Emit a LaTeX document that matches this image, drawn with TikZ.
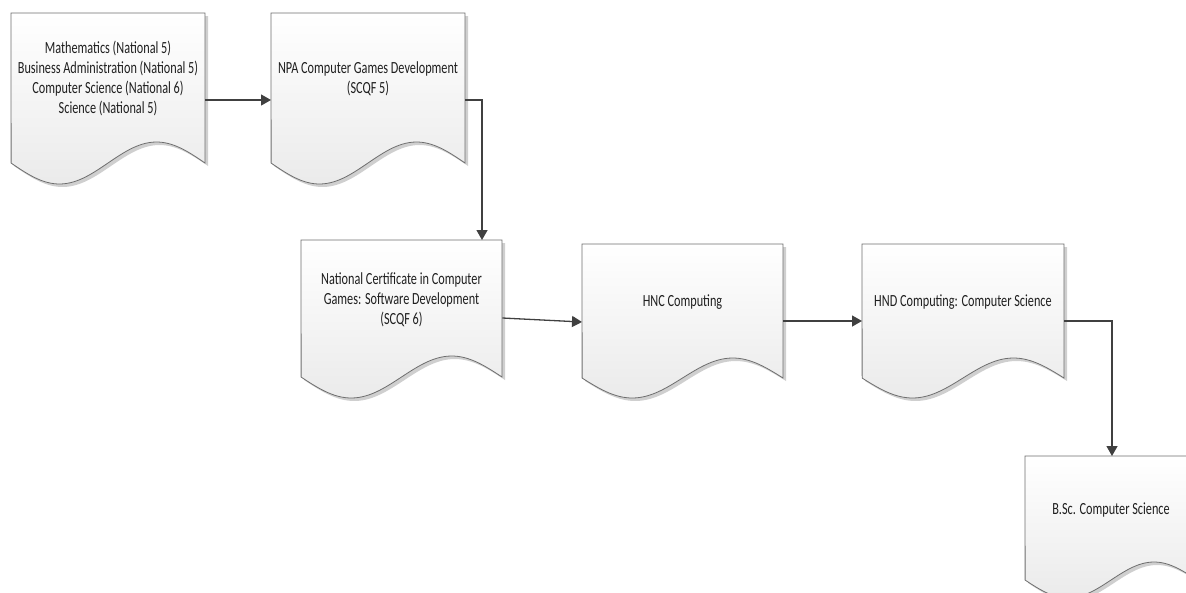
\documentclass[tikz,border=0pt]{standalone}
\usepackage{fontspec}
\newfontfamily\calfont[FakeStretch=0.72]{Carlito}
\usetikzlibrary{arrows.meta,calc}
\definecolor{edgec}{HTML}{6E6E6E}
\definecolor{arrowc}{HTML}{404040}
\definecolor{shadowc}{HTML}{CFCFCF}
\tikzset{
  docline/.style={draw=edgec, line width=0.8pt, top color=white, bottom color=black!8},
  docshadow/.style={fill=shadowc, draw=none},
  doclabel/.style={font=\calfont\fontsize{17}{20}\selectfont, align=center, text=black!88, inner sep=0pt},
  arr/.style={draw=arrowc, line width=1.3pt, -{Triangle[length=10pt,width=11pt]}},
  docbody/.style={draw=none, inner sep=0pt, anchor=north west},
}
% x y w h a
\newcommand\docpath[5]{(#1,#2) -- ({#1+#3},#2) -- ({#1+#3},{#2+#4}) -- plot[domain=1:0,samples=60,variable=\t] ({#1+\t*#3},{#2+#4+#5*sin(360*\t)}) -- cycle}
% name x y w h a
\newcommand\docshape[6]{%
  \path[docshadow, shift={(3,3)}] \docpath{#2}{#3}{#4}{#5}{#6};
  \path[docline] \docpath{#2}{#3}{#4}{#5}{#6};
  \node[docbody, minimum width=#4pt, minimum height=#5pt] (#1) at (#2,#3) {};
}
\begin{document}
\begin{tikzpicture}[x=1pt,y=-1pt]
\useasboundingbox (0,0) rectangle (1186,592);
\clip (0,0) rectangle (1186,592);

\docshape{n1}{11}{13}{194}{150}{21}
\docshape{n2}{271}{13}{194}{150}{21}
\docshape{n3}{301}{240}{201}{137}{21}
\docshape{n4}{582}{244}{201}{134}{20}
\docshape{n5}{862}{244}{202}{134}{20}
\docshape{n6}{1025}{456}{172}{124}{18}

\node[doclabel] (t1) at (108,78) {Mathematics (National 5)\\Business Administration (National 5)\\Computer Science (National 6)\\Science (National 5)};
\node[doclabel] (t2) at (368,79) {NPA Computer Games Development\\(SCQF 5)};
\node[doclabel] (t3) at (401.5,300) {National Certificate in Computer\\Games: Software Development\\(SCQF 6)};
\node[doclabel] (t4) at (682.5,302) {HNC Computing};
\node[doclabel] (t5) at (963,302) {HND Computing: Computer Science};
\node[doclabel] (t6) at (1111,510) {B.Sc. Computer Science};

\draw[arr] ($(n1.north east)+(0,87)$) -- ($(n2.north west)+(0,87)$);
\draw[arr] ($(n2.north east)+(0,87)$) -| ($(n3.north west)+(181,0)$);
\draw[arr] ($(n3.north east)+(0,78)$) -- ($(n4.north west)+(0,78)$);
\draw[arr] ($(n4.north east)+(0,77)$) -- ($(n5.north west)+(0,77)$);
\draw[arr] ($(n5.north east)+(0,77)$) -| ($(n6.north west)+(87,0)$);
\end{tikzpicture}
\end{document}
